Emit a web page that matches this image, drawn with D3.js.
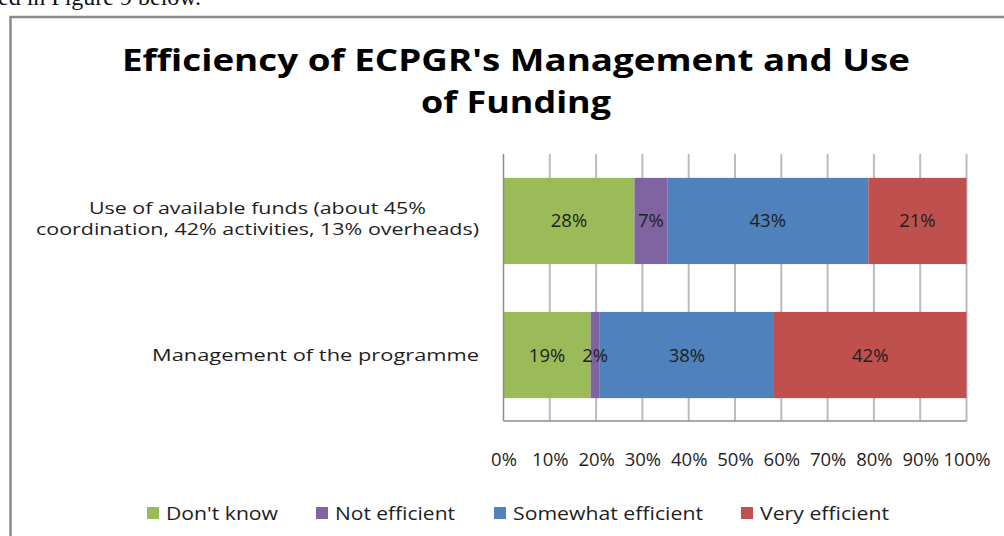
<!DOCTYPE html>
<html>
<head>
<meta charset="utf-8">
<script src="https://cdn.jsdelivr.net/npm/d3@7"></script>
<style>
  html, body { margin: 0; padding: 0; background: #ffffff; overflow: hidden; }
  svg { display: block; }
  text { font-family: "Open Sans", "Noto Sans", sans-serif; }
</style>
</head>
<body>
<svg id="chart" width="1004" height="536"></svg>
<script>
// ---------- data ----------
const titleLines = ["Efficiency of ECPGR's Management and Use", "of Funding"];
const categories = ["Use of available funds", "Management of the programme"];
const categoryLines = [
  ["Use of available funds (about 45%", "coordination, 42% activities, 13% overheads)"],
  ["Management of the programme"]
];
const seriesNames = ["Don't know", "Not efficient", "Somewhat efficient", "Very efficient"];
const dontKnow = [28, 19];
const notEfficient = [7, 2];
const somewhatEfficient = [43, 38];
const veryEfficient = [21, 42];
const seriesColors = ["#9BBB59", "#8064A2", "#4F81BD", "#C0504D"];
const tickValues = [0, 0.1, 0.2, 0.3, 0.4, 0.5, 0.6, 0.7, 0.8, 0.9, 1.0];
const tickLabels = ["0%", "10%", "20%", "30%", "40%", "50%", "60%", "70%", "80%", "90%", "100%"];

// ---------- build table ----------
const seriesValues = [dontKnow, notEfficient, somewhatEfficient, veryEfficient];
const rows = categories.map((c, i) => {
  const r = { category: c, idx: i };
  seriesNames.forEach((s, j) => { r[s] = seriesValues[j][i]; });
  return r;
});
const stacked = d3.stack().keys(seriesNames).offset(d3.stackOffsetExpand)(rows);

const svg = d3.select("#chart");

// page fragment above the figure (cut off at the top, as in the source page)
svg.append("text")
  .attr("x", -2).attr("y", 5)
  .style("font-family", "'Liberation Serif', serif")
  .style("font-size", "24px")
  .attr("fill", "#111")
  .text("ed in Figure 9 below.");

// chart frame
svg.append("rect")
  .attr("x", 10.5).attr("y", 17).attr("width", 1010).attr("height", 540)
  .attr("fill", "#fff").attr("stroke", "#8a8a8a").attr("stroke-width", 2.5);

// title
const titleWidths = [788, 190];
svg.selectAll(".title").data(titleLines).enter().append("text")
  .attr("class", "title")
  .attr("x", 516)
  .attr("y", (d, i) => 71 + i * 42)
  .attr("text-anchor", "middle")
  .attr("textLength", (d, i) => titleWidths[i])
  .attr("lengthAdjust", "spacingAndGlyphs")
  .style("font-size", "31px").style("font-weight", "bold")
  .attr("fill", "#000")
  .text(d => d);

// scales
const x = d3.scaleLinear().domain([0, 1]).range([503.5, 966.5]);
const y = d3.scaleBand().domain(categories).range([154, 422])
  .paddingInner(0.357).paddingOuter(0.178);

// gridlines
svg.append("g").selectAll("line").data(tickValues.slice(1)).enter().append("line")
  .attr("x1", d => x(d)).attr("x2", d => x(d))
  .attr("y1", 154).attr("y2", 421)
  .attr("stroke", "#bcbcbc").attr("stroke-width", 2);

// bars
const layer = svg.append("g").selectAll("g").data(stacked).enter().append("g")
  .attr("fill", (d, i) => seriesColors[i]);
layer.selectAll("rect").data(d => d).enter().append("rect")
  .attr("x", d => x(d[0]))
  .attr("width", d => x(d[1]) - x(d[0]))
  .attr("y", d => y(d.data.category))
  .attr("height", y.bandwidth());

// data labels
const labelG = svg.append("g");
stacked.forEach((s, si) => {
  s.forEach(d => {
    labelG.append("text")
      .attr("x", (x(d[0]) + x(d[1])) / 2)
      .attr("y", y(d.data.category) + y.bandwidth() / 2 + 6.5)
      .attr("text-anchor", "middle")
      .style("font-size", "18.5px")
      .attr("fill", "#1e1e1e")
      .text(d.data[s.key] + "%");
  });
});

// axes lines
svg.append("line").attr("x1", x(0)).attr("x2", x(0)).attr("y1", 154).attr("y2", 421)
  .attr("stroke", "#8c8c8c").attr("stroke-width", 1.5);
svg.append("line").attr("x1", x(0)).attr("x2", x(1)).attr("y1", 421).attr("y2", 421)
  .attr("stroke", "#8c8c8c").attr("stroke-width", 1.5);

// x axis labels
const xAxis = d3.axisBottom(x).tickValues(tickValues)
  .tickFormat((d, i) => tickLabels[i]).tickSize(0).tickPadding(0);
const gx = svg.append("g").attr("transform", "translate(0,453)").call(xAxis);
gx.select(".domain").remove();
gx.selectAll("text")
  .style("font-family", "'Open Sans', sans-serif")
  .style("font-size", "18.5px").attr("fill", "#1e1e1e");

// category labels
const catWidths = [[337, 443], [327]];
categories.forEach((c, i) => {
  const lines = categoryLines[i];
  const cy = y(c) + y.bandwidth() / 2;
  const lh = 21;
  const maxW = d3.max(catWidths[i]);
  const cx = 479 - maxW / 2;
  lines.forEach((ln, k) => {
    svg.append("text")
      .attr("x", cx)
      .attr("y", cy - (lines.length - 1) * lh / 2 + k * lh + 6 - (lines.length > 1 ? 2 : 0))
      .attr("text-anchor", "middle")
      .attr("textLength", catWidths[i][k])
      .attr("lengthAdjust", "spacingAndGlyphs")
      .style("font-size", "17px")
      .attr("fill", "#1e1e1e")
      .text(ln);
  });
});

// legend
const legSquareX = [147, 316, 494, 741];
const legTextW = [112, 120, 190, 129];
const legend = svg.append("g");
seriesNames.forEach((s, i) => {
  legend.append("rect")
    .attr("x", legSquareX[i]).attr("y", 507)
    .attr("width", 12).attr("height", 12)
    .attr("fill", seriesColors[i]);
  legend.append("text")
    .attr("x", legSquareX[i] + 19).attr("y", 519.5)
    .attr("textLength", legTextW[i])
    .attr("lengthAdjust", "spacingAndGlyphs")
    .style("font-size", "18.5px")
    .attr("fill", "#1e1e1e")
    .text(s);
});
</script>
</body>
</html>
